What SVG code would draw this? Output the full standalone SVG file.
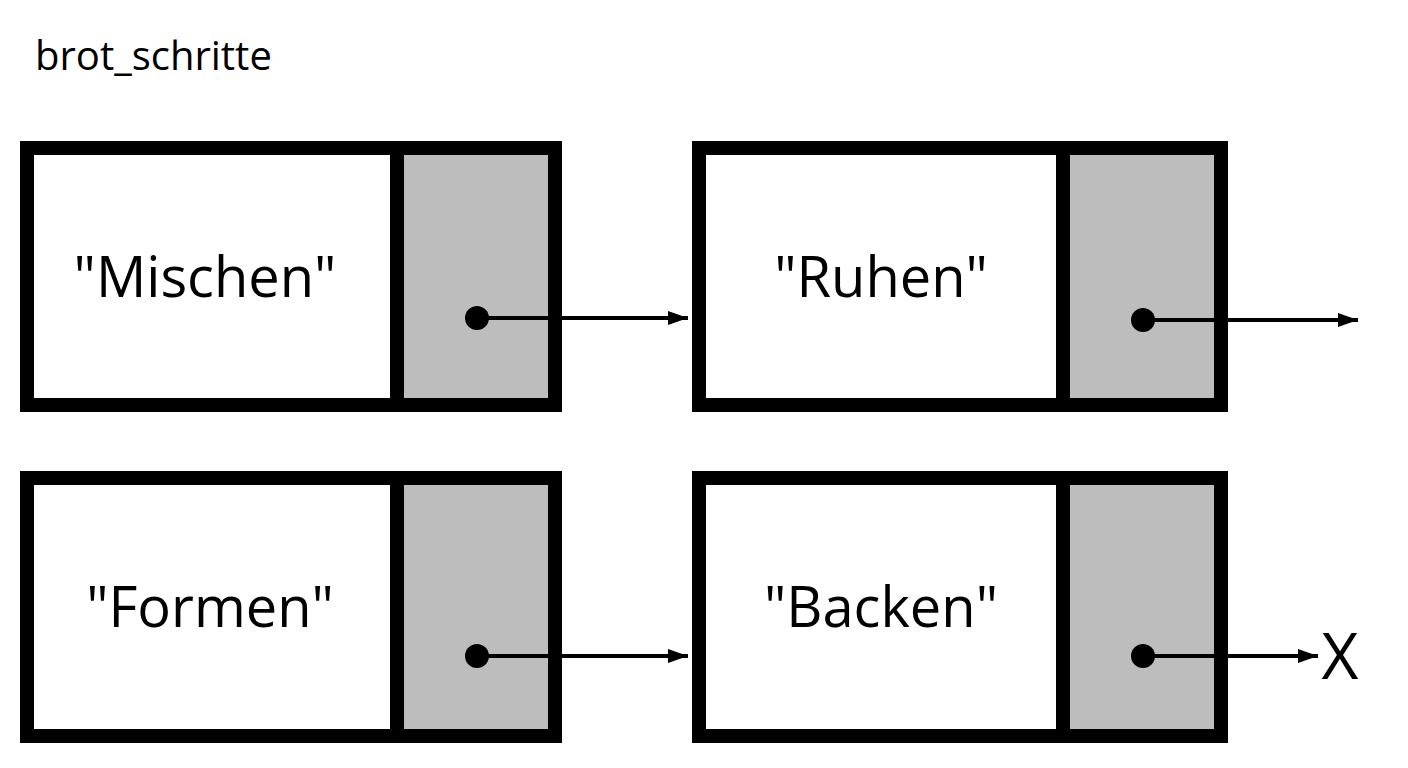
<svg xmlns="http://www.w3.org/2000/svg" width="1408" height="768" viewBox="0 0 1408 768">
<style>
.box{fill:#fff;stroke:#000;stroke-width:14}
.cell{fill:#bdbdbd}
.div{stroke:#000;stroke-width:14}
.lbl{font-family:"Open Sans","Liberation Sans",sans-serif;font-size:56px;text-anchor:middle}
.ln{stroke:#000;stroke-width:4;fill:none}
</style>
<defs><marker id="a" markerWidth="20" markerHeight="14" refX="20" refY="7" orient="auto" markerUnits="userSpaceOnUse"><path d="M0,0L20,7L0,14Z"/></marker></defs>
<rect width="1408" height="768" fill="#fff"/>
<text x="35" y="70" font-family="Open Sans,Liberation Sans,sans-serif" font-size="40">brot_schritte</text>
<g id="n1"><rect class="box" x="27" y="148" width="528" height="257"/><rect class="cell" x="404" y="155" width="144" height="243"/><line class="div" x1="397" y1="148" x2="397" y2="405"/><text class="lbl" x="205" y="297">"Mischen"</text></g>
<g id="n2"><rect class="box" x="699" y="148" width="522" height="257"/><rect class="cell" x="1070" y="155" width="144" height="243"/><line class="div" x1="1063" y1="148" x2="1063" y2="405"/><text class="lbl" x="881" y="297">"Ruhen"</text></g>
<g id="n3"><rect class="box" x="27" y="478" width="528" height="258"/><rect class="cell" x="404" y="485" width="144" height="244"/><line class="div" x1="397" y1="478" x2="397" y2="736"/><text class="lbl" x="210" y="627">"Formen"</text></g>
<g id="n4"><rect class="box" x="699" y="478" width="522" height="258"/><rect class="cell" x="1070" y="485" width="144" height="244"/><line class="div" x1="1063" y1="478" x2="1063" y2="736"/><text class="lbl" x="881" y="627">"Backen"</text></g>
<g id="connectors">
<circle cx="477" cy="318" r="12"/><line class="ln" x1="477" y1="318" x2="688" y2="318" marker-end="url(#a)"/>
<circle cx="1143" cy="320" r="12"/><line class="ln" x1="1143" y1="320" x2="1358" y2="320" marker-end="url(#a)"/>
<circle cx="477" cy="656" r="12"/><line class="ln" x1="477" y1="656" x2="688" y2="656" marker-end="url(#a)"/>
<circle cx="1143" cy="656" r="12"/><line class="ln" x1="1143" y1="656" x2="1318" y2="656" marker-end="url(#a)"/>
<text x="1340" y="679" font-family="Open Sans,Liberation Sans,sans-serif" font-size="64" text-anchor="middle">X</text>
</g>
</svg>
